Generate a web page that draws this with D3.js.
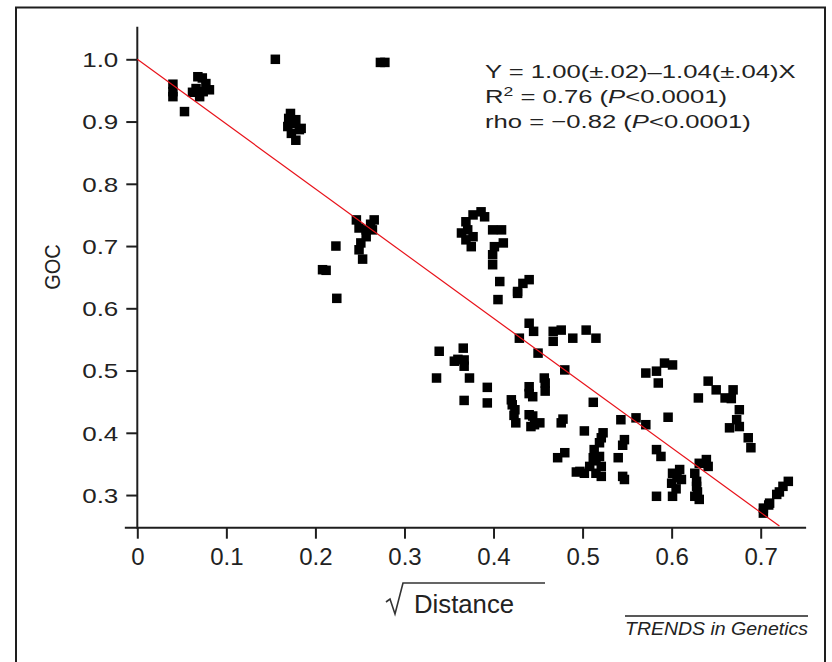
<!DOCTYPE html>
<html>
<head>
<meta charset="utf-8">
<script src="https://cdn.jsdelivr.net/npm/d3@7"></script>
<style>
body { margin: 0; background: #fff; }
svg text { font-family: "Liberation Sans", Arial, Helvetica, sans-serif; fill: #222; }
</style>
</head>
<body>
<svg id="chart" width="832" height="662"></svg>
<script>
// sqrt(distance) and GOC
var sqrtDistance = [
    0.040, 0.040, 0.040, 0.053, 0.062, 0.068, 0.073, 0.070, 0.077, 0.081, 0.074, 0.066,
    0.155, 0.273, 0.278,
    0.172, 0.178, 0.170, 0.182, 0.173, 0.178, 0.169, 0.184, 0.176,
    0.246, 0.266, 0.257, 0.249, 0.264, 0.251, 0.249, 0.253, 0.257, 0.262,
    0.223, 0.208, 0.212, 0.224,
    0.386, 0.377, 0.390, 0.369, 0.371, 0.364, 0.377, 0.375, 0.369, 0.399, 0.409, 0.411, 0.401, 0.399, 0.399,
    0.407, 0.405, 0.433, 0.427, 0.440, 0.427,
    0.440, 0.445, 0.429, 0.450, 0.467, 0.476, 0.467, 0.489, 0.504, 0.515, 0.480,
    0.339, 0.356, 0.366, 0.367, 0.367, 0.336, 0.373, 0.393, 0.367, 0.393, 0.360,
    0.420, 0.424, 0.425, 0.421, 0.423, 0.440, 0.440, 0.444, 0.444, 0.452, 0.442, 0.446, 0.440, 0.458, 0.458, 0.457,
    0.476, 0.478, 0.512, 0.502, 0.523, 0.519, 0.513, 0.512, 0.519, 0.521, 0.515, 0.508, 0.497, 0.502, 0.521, 0.515, 0.521, 0.472, 0.480, 0.493,
    0.540, 0.547, 0.545, 0.543, 0.547, 0.545, 0.560, 0.571, 0.596, 0.583, 0.588, 0.583,
    0.601, 0.600, 0.609, 0.611, 0.601, 0.605, 0.606, 0.626, 0.628, 0.631, 0.626, 0.628, 0.639, 0.641, 0.631, 0.629,
    0.571, 0.583, 0.592, 0.601, 0.585,
    0.630, 0.641, 0.650, 0.660, 0.669, 0.667, 0.676, 0.673, 0.665, 0.676, 0.686, 0.689,
    0.703, 0.703, 0.710, 0.709, 0.718, 0.725, 0.731, 0.721
];
var goc = [
    0.960, 0.948, 0.940, 0.916, 0.947, 0.972, 0.970, 0.940, 0.961, 0.951, 0.948, 0.953,
    1.000, 0.995, 0.995,
    0.913, 0.903, 0.905, 0.887, 0.881, 0.870, 0.892, 0.889, 0.897,
    0.742, 0.742, 0.726, 0.729, 0.726, 0.705, 0.694, 0.679, 0.715, 0.735,
    0.700, 0.662, 0.661, 0.616,
    0.755, 0.750, 0.747, 0.739, 0.726, 0.721, 0.715, 0.699, 0.710, 0.726, 0.726, 0.705, 0.699, 0.686, 0.670,
    0.643, 0.614, 0.640, 0.627, 0.646, 0.624,
    0.576, 0.563, 0.552, 0.528, 0.563, 0.565, 0.547, 0.552, 0.565, 0.552, 0.501,
    0.531, 0.515, 0.536, 0.517, 0.507, 0.488, 0.488, 0.473, 0.452, 0.448, 0.518,
    0.453, 0.437, 0.416, 0.445, 0.428, 0.474, 0.463, 0.458, 0.427, 0.416, 0.410, 0.413, 0.429, 0.480, 0.467, 0.488,
    0.416, 0.422, 0.449, 0.403, 0.400, 0.384, 0.373, 0.360, 0.362, 0.346, 0.335, 0.346, 0.338, 0.335, 0.330, 0.355, 0.392, 0.360, 0.368, 0.337,
    0.360, 0.389, 0.380, 0.421, 0.325, 0.330, 0.424, 0.413, 0.425, 0.373, 0.362, 0.298,
    0.335, 0.319, 0.341, 0.325, 0.298, 0.310, 0.328, 0.335, 0.314, 0.293, 0.298, 0.322, 0.357, 0.346, 0.351, 0.305,
    0.496, 0.499, 0.512, 0.509, 0.480,
    0.456, 0.483, 0.469, 0.456, 0.469, 0.455, 0.437, 0.421, 0.408, 0.410, 0.392, 0.376,
    0.279, 0.271, 0.287, 0.284, 0.301, 0.314, 0.322, 0.305
];
var xTicks = [0, 0.1, 0.2, 0.3, 0.4, 0.5, 0.6, 0.7];
var yTicks = [0.3, 0.4, 0.5, 0.6, 0.7, 0.8, 0.9, 1.0];
// fitted line Y = a + bX
var fitA = 1.00, fitB = -1.04, fitXmax = 0.721;
var statLines = ["Y = 1.00(\u00b1.02)\u20131.04(\u00b1.04)X", "0.76", "\u22120.82"];

var svg = d3.select("#chart");
var axisColor = "#1e1e1e";

// outer frame
svg.append("rect")
    .attr("x", 16).attr("y", 7.5)
    .attr("width", 809).attr("height", 700)
    .attr("fill", "none")
    .attr("stroke", axisColor)
    .attr("stroke-width", 2);

var x = d3.scaleLinear().domain([0, 0.7]).range([137.3, 760.7]);
var y = d3.scaleLinear().domain([0.3, 1.0]).range([495.05, 59.3]);
var xAxisY = 527.7;

// x axis
var gx = svg.append("g")
    .attr("transform", "translate(0," + xAxisY + ")")
    .call(d3.axisBottom(x).tickValues(xTicks).tickSize(11).tickSizeOuter(0)
        .tickFormat(d => d === 0 ? "0" : d.toFixed(1)));
gx.select(".domain").remove();
gx.selectAll(".tick line").attr("stroke", axisColor).attr("stroke-width", 2);
gx.selectAll(".tick text")
    .attr("y", 20.5).attr("dy", "0.71em")
    .style("font-size", "24px").attr("fill", "#333");
svg.append("line")
    .attr("x1", x(-0.014)).attr("x2", x(0.751))
    .attr("y1", xAxisY).attr("y2", xAxisY)
    .attr("stroke", axisColor).attr("stroke-width", 2);

// y axis
var gy = svg.append("g")
    .attr("transform", "translate(" + x(0) + ",0)")
    .call(d3.axisLeft(y).tickValues(yTicks).tickSize(11).tickSizeOuter(0)
        .tickFormat(d => d.toFixed(1)));
gy.select(".domain").remove();
gy.selectAll(".tick line").attr("stroke", axisColor).attr("stroke-width", 2);
gy.selectAll(".tick text")
    .attr("x", -19 / 1.3).attr("dy", "0.36em")
    .attr("transform", "scale(1.3,1)")
    .style("font-size", "20px").attr("fill", "#333");
svg.append("line")
    .attr("x1", x(0)).attr("x2", x(0))
    .attr("y1", y(1.0524)).attr("y2", xAxisY + 1)
    .attr("stroke", axisColor).attr("stroke-width", 2);

// axis titles
svg.append("text")
    .attr("transform", "translate(60,267) rotate(-90) scale(1,1.12)")
    .attr("text-anchor", "middle")
    .style("font-size", "20px").attr("fill", "#333")
    .text("GOC");

svg.append("path")
    .attr("d", "M386,602 L390,599 L395,614 L403,583 L545,583")
    .attr("fill", "none").attr("stroke", "#333").attr("stroke-width", 1.6);
svg.append("text")
    .attr("transform", "translate(414,612.5) scale(1.03,1)")
    .style("font-size", "25px").attr("fill", "#333")
    .text("Distance");

// points
svg.append("g").selectAll("rect")
    .data(sqrtDistance.map((d, i) => [d, goc[i]]))
    .join("rect")
    .attr("x", d => x(d[0]) - 4.75)
    .attr("y", d => y(d[1]) - 4.75)
    .attr("width", 9.5).attr("height", 9.5)
    .attr("fill", "#000");

// regression line
svg.append("path")
    .datum([0, fitXmax])
    .attr("d", d3.line().x(d => x(d)).y(d => y(fitA + fitB * d)))
    .attr("fill", "none")
    .attr("stroke", "#e8121a")
    .attr("stroke-width", 1.2);

// stats text
var sx = 1.35;
var t1 = svg.append("text")
    .attr("transform", "translate(485,78) scale(" + sx + ",1)")
    .style("font-size", "19px")
    .text(statLines[0]);
var t2 = svg.append("text")
    .attr("transform", "translate(485,103) scale(" + sx + ",1)")
    .style("font-size", "19px");
t2.append("tspan").text("R");
t2.append("tspan").attr("dy", -7).style("font-size", "13px").text("2");
t2.append("tspan").attr("dy", 7).text(" = " + statLines[1] + " (");
t2.append("tspan").style("font-style", "italic").text("P");
t2.append("tspan").text("<0.0001)");
var t3 = svg.append("text")
    .attr("transform", "translate(485,128) scale(" + sx + ",1)")
    .style("font-size", "19px");
t3.append("tspan").text("rho = " + statLines[2] + " (");
t3.append("tspan").style("font-style", "italic").text("P");
t3.append("tspan").text("<0.0001)");

// journal tag
svg.append("line")
    .attr("x1", 625).attr("x2", 808).attr("y1", 616).attr("y2", 616)
    .attr("stroke", "#222").attr("stroke-width", 1.5);
svg.append("text")
    .attr("x", 625).attr("y", 634.5)
    .attr("textLength", 183).attr("lengthAdjust", "spacingAndGlyphs")
    .style("font-size", "18.5px").style("font-style", "italic").attr("fill", "#222")
    .text("TRENDS in Genetics");
</script>
</body>
</html>
